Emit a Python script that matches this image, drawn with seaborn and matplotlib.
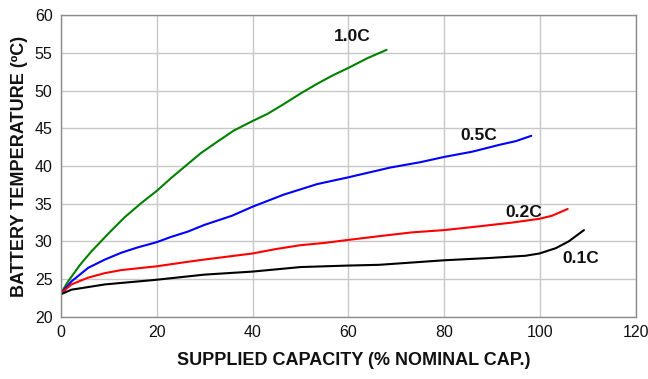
"""Battery temperature vs supplied capacity at several charge rates."""

import matplotlib

matplotlib.use("Agg")

import matplotlib.pyplot as plt
import pandas as pd
import seaborn as sns

# Values
cap_10c = [0, 1.5, 4, 6.4, 10, 13.3, 16.8, 20, 23, 26, 29.2, 32.6, 36.1, 39.8, 43.1, 46.5,
           50, 53.5, 56.7, 60, 64, 68]
temp_10c = [23.1, 24.7, 26.9, 28.7, 31.1, 33.2, 35.1, 36.7, 38.4, 40.0, 41.7, 43.2, 44.7, 45.9,
            46.9, 48.2, 49.6, 50.9, 52.0, 53.0, 54.3, 55.4]

cap_05c = [0, 2.2, 5.7, 9.2, 12.6, 16, 20, 23, 26.5, 30, 35.7, 40, 46.5, 53.5, 60, 68.8,
           75, 80, 85.9, 91.5, 95, 98.2]
temp_05c = [23.1, 24.7, 26.5, 27.6, 28.5, 29.2, 29.9, 30.6, 31.3, 32.2, 33.4, 34.6, 36.2, 37.6,
            38.5, 39.8, 40.5, 41.2, 41.9, 42.8, 43.3, 44.0]

cap_02c = [0, 2.2, 5.7, 9.2, 12.6, 20, 26.5, 30, 35, 40, 45, 50, 55, 60, 66.5, 73.3, 80, 87.3,
           94.2, 99.9, 102.5, 105.8]
temp_02c = [23.1, 24.3, 25.2, 25.8, 26.2, 26.7, 27.3, 27.6, 28.0, 28.4, 29.0, 29.5, 29.8, 30.2,
            30.7, 31.2, 31.5, 32.0, 32.5, 33.0, 33.4, 34.3]

cap_01c = [0, 2.2, 9.2, 19.7, 30, 40, 50, 60, 66.5, 80, 89.4, 97, 99.9, 103.3, 106, 109.2]
temp_01c = [23.0, 23.6, 24.3, 24.9, 25.6, 26.0, 26.6, 26.8, 26.9, 27.5, 27.8, 28.1, 28.4, 29.1,
            30.0, 31.5]

rates = ["1.0C", "0.5C", "0.2C", "0.1C"]
colors = {"1.0C": "#008000", "0.5C": "#0000ff", "0.2C": "#ff0000", "0.1C": "#000000"}
# label anchors (capacity, temperature)
label_pos = {"1.0C": (60.9, 57.2), "0.5C": (87.3, 44.0), "0.2C": (96.7, 33.8), "0.1C": (108.5, 27.8)}

frames = []
for rate, caps, temps in zip(rates, [cap_10c, cap_05c, cap_02c, cap_01c],
                             [temp_10c, temp_05c, temp_02c, temp_01c]):
    frames.append(pd.DataFrame({"capacity": caps, "temperature": temps, "rate": rate}))
df = pd.concat(frames, ignore_index=True)

sns.set_theme(style="whitegrid")
plt.rcParams["font.family"] = ["Liberation Sans", "DejaVu Sans"]

fig = plt.figure(figsize=(6.48, 3.79), dpi=100)
ax = fig.add_axes([0.094, 0.164, 0.887, 0.796])

sns.lineplot(data=df, x="capacity", y="temperature", hue="rate", palette=colors,
             linewidth=1.5, legend=False, ax=ax, sort=False)

for rate in rates:
    x, y = label_pos[rate]
    ax.text(x, y, rate, ha="center", va="center", fontsize=12.5, fontweight="bold", color="#111111")

ax.set_xlim(0, 120)
ax.set_ylim(20, 60)
ax.set_xticks(range(0, 121, 20))
ax.set_yticks(range(20, 61, 5))
ax.grid(True, color="#c8c8c8", linewidth=1.0)
for spine in ax.spines.values():
    spine.set_color("#8c8c8c")
    spine.set_linewidth(1.0)
ax.tick_params(axis="both", which="both", direction="out", length=4, width=1,
               color="#8c8c8c", labelsize=11.5, labelcolor="#111111", pad=2)
ax.set_xlabel("SUPPLIED CAPACITY (% NOMINAL CAP.)", fontsize=13, fontweight="bold",
              color="#111111")
ax.xaxis.set_label_coords(0.51, -0.118)
ax.set_ylabel("BATTERY TEMPERATURE (ºC)", fontsize=13, fontweight="bold",
              color="#111111", labelpad=5)

fig.savefig("out.png", dpi=100)
